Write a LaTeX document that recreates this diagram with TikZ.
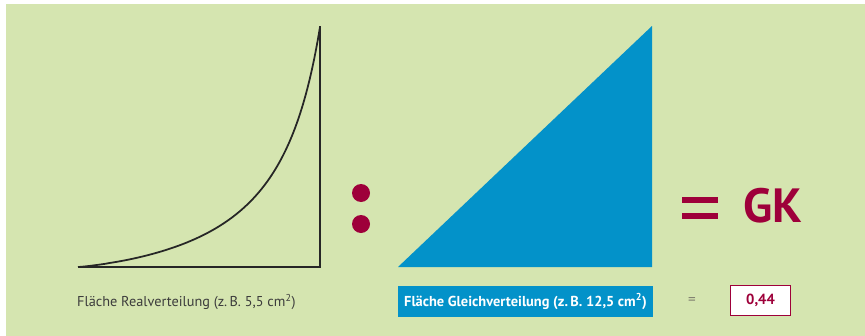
\documentclass[tikz,border=0pt]{standalone}
\usepackage{fontspec}
\setmainfont{PT Sans}
\usetikzlibrary{positioning}
\definecolor{bggreen}{HTML}{D5E5B0}
\definecolor{gleichblue}{HTML}{0392C9}
\definecolor{gkred}{HTML}{9E003A}
\definecolor{labelgray}{HTML}{3C3C3C}
\definecolor{eqgray}{HTML}{808070}

\begin{document}
\begin{tikzpicture}[x=0.03cm, y=-0.03cm,
          chart/.style={line width=1.5pt, draw=black!85},
          caption/.style={font=\fontsize{12.2}{14}\selectfont, text=labelgray, inner sep=0pt},
          gleichbox/.style={fill=gleichblue, text=white, font=\bfseries\fontsize{12.3}{14}\selectfont, minimum width=7.65cm, minimum height=0.93cm, inner sep=0pt},
          resultbox/.style={draw=gkred, line width=1.5pt, fill=white, text=gkred, font=\bfseries\fontsize{12.5}{14}\selectfont, minimum width=1.8cm, minimum height=0.9cm, inner sep=0pt},
          dot/.style={fill=gkred}]
        % background
        \useasboundingbox (0,0) rectangle (865,336);
        \fill[white] (0,0) rectangle (865,336);
        \fill[bggreen] (6,4) rectangle (865,336);
        % real distribution
        \draw[chart] (78,267) -- (320,267) -- (320,26);
        \draw[chart, line join=round] (78,267) -- plot[domain=0.01:1, samples=120] ({78+242*\x}, {267-48*\x^1.2/(1.2-\x)});
        % ratio sign
        \fill[dot] (361,193) circle[radius=0.27cm];
        \fill[dot] (361,224) circle[radius=0.27cm];
        % uniform distribution
        \fill[gleichblue] (398,267) -- (652,26) -- (652,267) -- cycle;
        % equals GK
        \fill[gkred] (682,197) rectangle (718,203);
        \fill[gkred] (682,213) rectangle (718,219);
        \node[text=gkred, font=\bfseries\fontsize{41}{44}\selectfont, inner sep=0pt] (gk) at (773,206) {GK};
        % captions
        \node[caption, anchor=west] (realtext) at (77,302) {Fläche Realverteilung (z.\,B. 5,5 cm\textsuperscript{2})};
        \node[gleichbox] (gleichtext) at (525.5,301.5) {Fläche Gleichverteilung (z.\,B. 12,5 cm\textsuperscript{2})};
        \node[text=eqgray, font=\fontsize{13}{14}\selectfont, inner sep=0pt] (eqsign) at (692,301) {=};
        \node[resultbox] (result) at (760.5,300.5) {0,44};
      \end{tikzpicture}
\end{document}
